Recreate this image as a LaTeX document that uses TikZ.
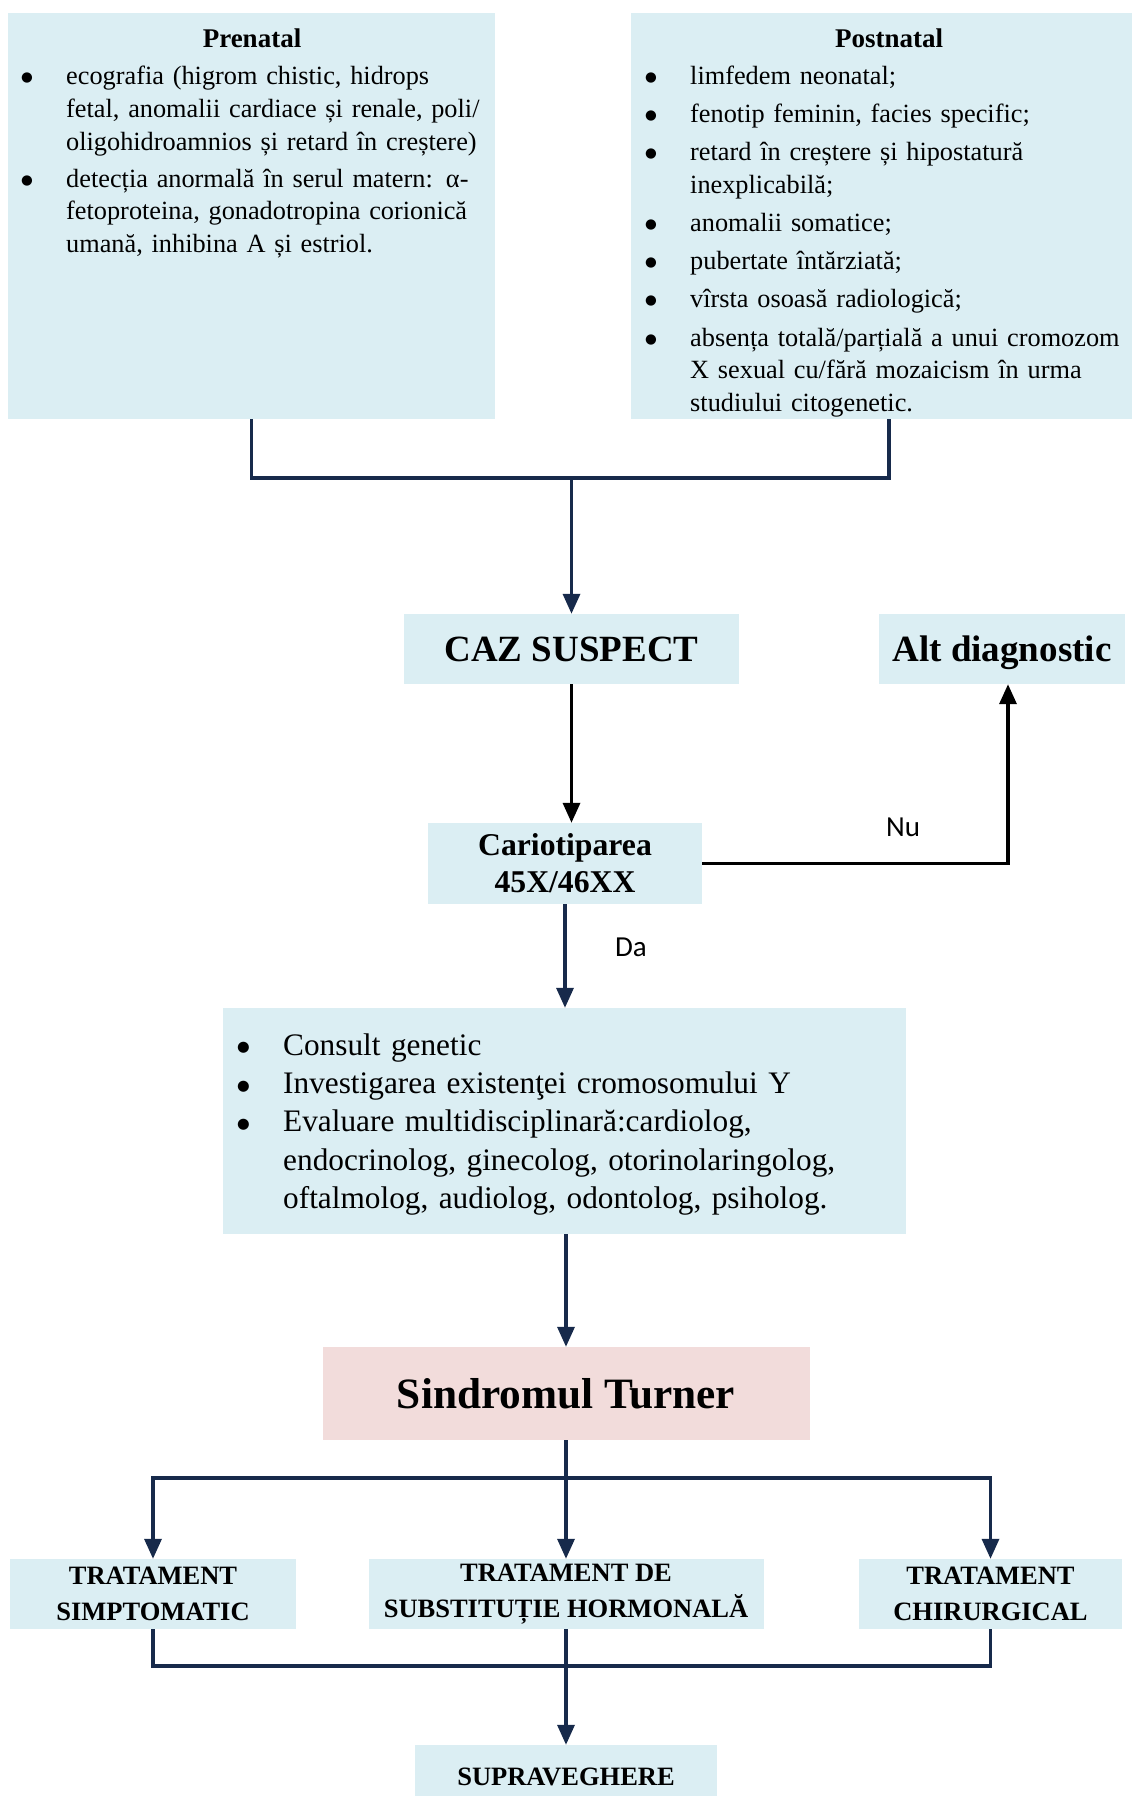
\documentclass[tikz,border=0pt]{standalone}
\usepackage{fontspec}
\setmainfont{Liberation Serif}
\newfontfamily\lblfont{Carlito}
\newfontfamily\dotfont{DejaVu Sans}
\usetikzlibrary{arrows.meta,positioning}
\definecolor{boxblue}{RGB}{219,238,243}
\definecolor{boxpink}{RGB}{242,220,219}
\definecolor{linenavy}{RGB}{23,42,75}
\newlength{\bindent}
\def\bsize{13.5}
\newcommand{\bitem}[1]{\par\noindent\hangindent=\bindent\hangafter=1\makebox[\bindent][l]{{\dotfont\fontsize{\bsize}{\bsize}\selectfont\raisebox{0.22em}{●}}}#1\par}

\begin{document}
\begin{tikzpicture}[x=1pt,y=-1pt]
          \useasboundingbox (0,0) rectangle (1132,1796);
          \tikzstyle{box} = [fill=boxblue, inner sep=0pt, align=center]
          \tikzstyle{list} = [inner sep=0pt, anchor=north west, align=left]
          \tikzstyle{conn} = [draw=linenavy, line width=3.4pt]
          \tikzstyle{blk} = [draw=black, line width=3.4pt]
          \tikzstyle{tip} = [-{Triangle[length=20pt,width=17pt]}]
          \tikzstyle{lbl} = [inner sep=0pt, font=\lblfont\fontsize{29}{34}\selectfont]
          % top panels
          \node[box, minimum width=487pt, minimum height=406pt](pre) at (251.5,216) {};
          \node[box, minimum width=501pt, minimum height=406pt](post) at (881.5,216) {};
          \node[inner sep=0pt, font=\fontsize{27}{33}\selectfont\bfseries](preT) at (252,38) {Prenatal};
          \node[inner sep=0pt, font=\fontsize{27}{33}\selectfont\bfseries](postT) at (889,38) {Postnatal};
          \node[list, text width=520pt, font=\fontsize{26.3}{32.7}\selectfont](preL) at (21,48) {%
            \setlength{\bindent}{45pt}\setlength{\parskip}{4pt}%
            \bitem{ecografia (higrom chistic, hidrops\newline fetal, anomalii cardiace și renale, poli/\newline oligohidroamnios și retard în creștere)}
            \bitem{detecția anormală în serul matern: α-\newline fetoproteina, gonadotropina corionică\newline umană, inhibina A și estriol.}};
          \node[list, text width=520pt, font=\fontsize{26.3}{32.7}\selectfont](postL) at (645,45.7) {%
            \setlength{\bindent}{45pt}\setlength{\parskip}{5.5pt}%
            \bitem{limfedem neonatal;}
            \bitem{fenotip feminin, facies specific;}
            \bitem{retard în creștere și hipostatură\newline inexplicabilă;}
            \bitem{anomalii somatice;}
            \bitem{pubertate întărziată;}
            \bitem{vîrsta osoasă radiologică;}
            \bitem{absența totală/parțială a unui cromozom\newline X sexual cu/fără mozaicism în urma\newline studiului citogenetic.}};
          % middle column
          \node[box, minimum width=335pt, minimum height=70pt, font=\fontsize{37}{44}\selectfont\bfseries](caz) at (571.5,649) {CAZ SUSPECT};
          \node[box, minimum width=246pt, minimum height=70pt, text depth=0pt, font=\fontsize{37}{44}\selectfont\bfseries](alt) at (1002,649) {Alt diagnostic};
          \node[box, minimum width=274pt, minimum height=81pt, font=\fontsize{31.7}{37}\selectfont\bfseries](car) at (565,863.5) {Cariotiparea\\45X/46XX};
          \node[box, minimum width=683pt, minimum height=226pt](cons) at (564.5,1121) {};
          \node[list, text width=660pt, font=\fontsize{31.3}{38.4}\selectfont](consL) at (237,1016.5) {%
            \setlength{\bindent}{46pt}\setlength{\parskip}{0pt}\def\bsize{14.5}%
            \bitem{Consult genetic}
            \bitem{Investigarea existenţei cromosomului Y}
            \bitem{Evaluare multidisciplinară:cardiolog,\newline endocrinolog, ginecolog, otorinolaringolog,\newline oftalmolog, audiolog, odontolog, psiholog.}};
          \node[box, fill=boxpink, minimum width=487pt, minimum height=93pt, font=\fontsize{43.3}{50}\selectfont\bfseries](st) at (566,1393.5) {Sindromul Turner};
          % treatments
          \node[box, minimum width=286pt, minimum height=70pt, font=\fontsize{26.5}{36.7}\selectfont\bfseries](t1) at (153,1594) {TRATAMENT\\SIMPTOMATIC};
          \node[box, minimum width=395pt, minimum height=70pt, font=\fontsize{26.5}{36.7}\selectfont\bfseries](t2) at (566,1594) {TRATAMENT DE\\SUBSTITUȚIE HORMONALĂ};
          \node[box, minimum width=263pt, minimum height=70pt, font=\fontsize{26.5}{36.7}\selectfont\bfseries](t3) at (990.5,1594) {TRATAMENT\\CHIRURGICAL};
          \node[box, minimum width=302pt, minimum height=64pt, font=\fontsize{26.5}{36.7}\selectfont\bfseries](sup) at (566,1777) {SUPRAVEGHERE};
          % junctions
          \coordinate (j1) at (571.5,478);
          \coordinate (j2) at (566,1478);
          \coordinate (j3) at (566,1666);
          % connectors
          \draw[conn] (pre.south) |- (j1) -| ([xshift=7.5pt]post.south);
          \draw[conn, tip] (j1) -- (caz.north);
          \draw[blk, tip] (caz.south) -- (caz.south |- car.north);
          \draw[blk, tip] (car.east) -| ([xshift=6pt]alt.south);
          \draw[conn, tip] (car.south) -- (car.south |- cons.north);
          \draw[conn, tip] (cons.south -| st.north) -- (st.north);
          \draw[conn] (st.south) -- (j2);
          \draw[conn, tip] (j2) -| (t1.north);
          \draw[conn, tip] (j2) -| (t3.north);
          \draw[conn, tip] (j2) -- (t2.north);
          \draw[conn] (t1.south) |- (j3) -| (t3.south);
          \draw[conn, tip] (t2.south) -- (sup.north);
          \node[lbl](nu) at (903,827) {Nu};
          \node[lbl](da) at (631,947) {Da};
\end{tikzpicture}
\end{document}
